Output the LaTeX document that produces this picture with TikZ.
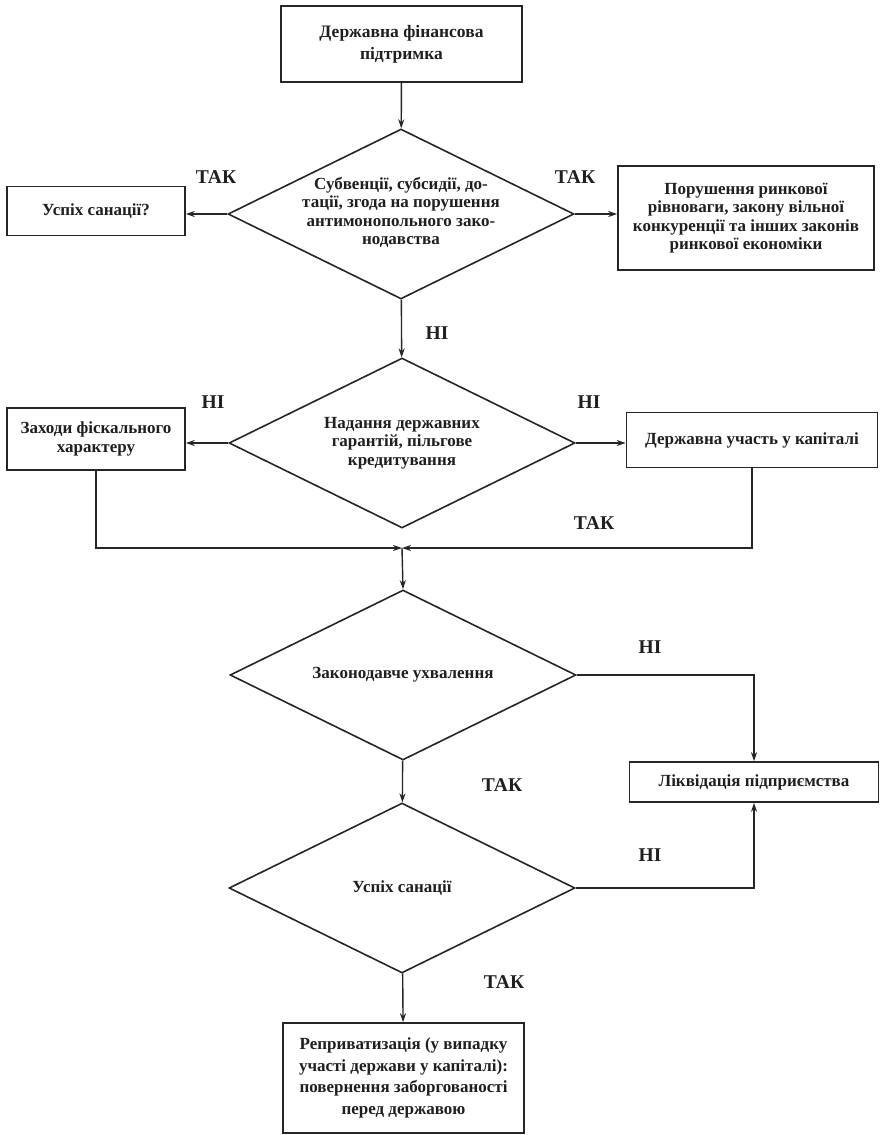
\documentclass[tikz,border=0pt]{standalone}
\usepackage{fontspec}
\setmainfont{Liberation Serif}
\usetikzlibrary{shapes.geometric,arrows.meta}
\begin{document}
\begin{tikzpicture}[x=1pt,y=-1pt,
  every node/.style={font=\bfseries\fontsize{17}{18.5}\selectfont, text=black!88},
  box/.style={draw=black!85, line width=1.6pt, rectangle, inner sep=2pt, align=center},
  dec/.style={draw=black!85, line width=1.6pt, diamond, aspect=2, inner sep=0pt, align=center,
              minimum width=346pt, minimum height=170pt},
  lbl/.style={font=\bfseries\fontsize{19.5}{22}\selectfont},
  conn/.style={draw=black!85, line width=1.4pt},
  arr/.style={conn, -{Stealth[length=9pt,width=6pt]}}]
\useasboundingbox (0,0) rectangle (879,1135);
\fill[white] (0,0) rectangle (879,1135);

% nodes
\node[box, minimum width=241pt, minimum height=76pt, font=\bfseries\fontsize{17.5}{22}\selectfont] (top) at (401.5,44) {Державна фінансова\\підтримка};
\node[dec] (d1) at (401,214) {\\[-10pt]Субвенції, субсидії, до-\\тації, згода на порушення\\антимонопольного зако-\\нодавства};
\node[box, minimum width=178pt, minimum height=49pt] (bl1) at (96,211) {Успіх санації?};
\node[box, minimum width=256pt, minimum height=104pt] (br1) at (746,218) {Порушення ринкової\\рівноваги, закону вільної\\конкуренції та інших законів\\ринкової економіки};

\node[dec] (d2) at (402,443) {Надання державних\\гарантій, пільгове\\кредитування};
\node[box, minimum width=178pt, minimum height=62pt] (bl2) at (96,439) {Заходи фіскального\\характеру};
\node[box, minimum width=251pt, minimum height=55pt] (br2) at (752,440) {Державна участь у капіталі};
\coordinate (j) at (402,548);

\node[dec] (d3) at (403,675) {Законодавче ухвалення};
\node[box, minimum width=249pt, minimum height=40pt] (liq) at (754,782) {Ліквідація підприємства};

\node[dec] (d4) at (402,888) {Успіх санації};
\node[box, minimum width=241pt, minimum height=110pt, font=\bfseries\fontsize{17}{21.5}\selectfont] (fin) at (403.5,1078) {Реприватизація (у випадку\\участі держави у капіталі):\\повернення заборгованості\\перед державою};

% connectors
\draw[arr] (top) -- (d1);
\draw[arr] (d1.west) -- (d1.west -| bl1.east);
\draw[arr] (d1.east) -- (d1.east -| br1.west);
\draw[arr] (d1) -- (d2);
\draw[arr] (d2.west) -- (d2.west -| bl2.east);
\draw[arr] (d2.east) -- (d2.east -| br2.west);
\draw[arr] (bl2.south) -- (bl2.south |- j) -- (j);
\draw[arr] (br2.south) -- (br2.south |- j) -- (j);
\draw[arr] (j) -- (d3.north);
\draw[arr] (d3.east) -| (liq.north);
\draw[arr] (d3) -- (d4);
\draw[arr] (d4.east) -| (liq.south);
\draw[arr] (d4) -- (fin);

% labels
\node[lbl] (t1) at (216,177) {ТАК};
\node[lbl] (t2) at (575,177) {ТАК};
\node[lbl] (n1) at (437,333) {НІ};
\node[lbl] (n2) at (213,402) {НІ};
\node[lbl] (n3) at (589,402) {НІ};
\node[lbl] (t3) at (594,523) {ТАК};
\node[lbl] (n4) at (650,647) {НІ};
\node[lbl] (t4) at (502,785) {ТАК};
\node[lbl] (n5) at (650,855) {НІ};
\node[lbl] (t5) at (504,982) {ТАК};
\end{tikzpicture}
\end{document}
